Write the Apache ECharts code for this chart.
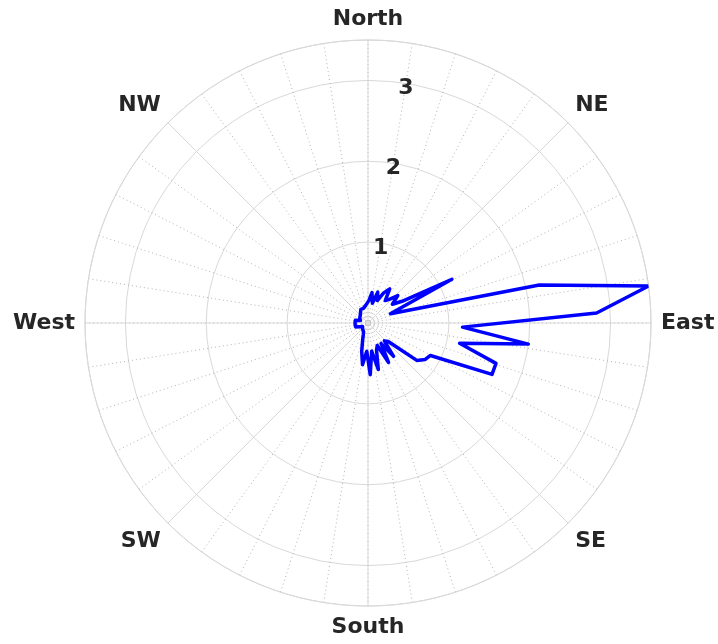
<!DOCTYPE html>
<html>
<head>
<meta charset="utf-8">
<script src="https://cdn.jsdelivr.net/npm/echarts@6/dist/echarts.min.js"></script>
<style>
  html, body { margin: 0; padding: 0; background: #ffffff; }
  #chart { width: 718px; height: 644px; }
</style>
</head>
<body>
<div id="chart"></div>
<script>
// Direction bins (compass bearing, degrees clockwise from North)
const bearings = [
  2.5, 7.5, 12.5, 17.5, 22.5, 27.5, 32.5, 37.5, 42.5, 47.5, 52.5, 57.5,
  62.5, 67.5, 72.5, 77.5, 82.5, 87.5, 92.5, 97.5, 102.5, 107.5, 112.5, 117.5,
  122.5, 127.5, 132.5, 137.5, 142.5, 147.5, 152.5, 157.5, 162.5, 167.5, 172.5, 177.5,
  182.5, 187.5, 192.5, 197.5, 202.5, 207.5, 212.5, 217.5, 222.5, 227.5, 232.5, 237.5,
  242.5, 247.5, 252.5, 257.5, 262.5, 267.5, 272.5, 277.5, 282.5, 287.5, 292.5, 297.5,
  302.5, 307.5, 312.5, 317.5, 322.5, 327.5, 332.5, 337.5, 342.5, 347.5, 352.5, 357.5
];

// Magnitude per bin
const magnitudes = [
  0.28, 0.38, 0.25, 0.40, 0.30, 0.42, 0.50, 0.35, 0.40, 0.50, 0.38, 0.50,
  1.17, 0.30, 0.30, 2.17, 3.50, 2.83, 1.17, 2.00, 1.16, 1.66, 1.66, 0.87,
  0.84, 0.76, 0.34, 0.30, 0.52, 0.30, 0.55, 0.30, 0.35, 0.59, 0.35, 0.64,
  0.35, 0.52, 0.36, 0.22, 0.15, 0.12, 0.10, 0.10, 0.10, 0.08, 0.10, 0.08,
  0.10, 0.10, 0.16, 0.16, 0.16, 0.16, 0.16, 0.16, 0.16, 0.10, 0.09, 0.10,
  0.12, 0.10, 0.12, 0.14, 0.16, 0.17, 0.19, 0.20, 0.19, 0.18, 0.22, 0.24
];

// Compass labels at every 45 degrees
const compassAngles = [0, 45, 90, 135, 180, 225, 270, 315];
const compassNames = ['North', 'NE', 'East', 'SE', 'South', 'SW', 'West', 'NW'];

// Radial tick labels
const radialTicks = [1, 2, 3];
const radialMax = 3.5;

const labelFont = {
  fontFamily: 'DejaVu Sans',
  fontWeight: 'bold',
  fontSize: 22,
  color: '#262626'
};

const center = [368, 323];
const radius = 283;

// Closed polygon through all bins
const pts = bearings.map((b, i) => [magnitudes[i], b]);
pts.push(pts[0]);

const chart = echarts.init(document.getElementById('chart'), null, { renderer: 'canvas' });

chart.setOption({
  backgroundColor: '#ffffff',
  animation: false,
  polar: [
    { center: center, radius: radius },
    { center: center, radius: radius },
    { center: center, radius: radius }
  ],
  angleAxis: [
    {
      // fine dotted spokes every 9 degrees
      polarIndex: 0,
      type: 'value', min: 0, max: 360, interval: 9,
      startAngle: 90, clockwise: true,
      axisLine: { show: false },
      axisTick: { show: false },
      axisLabel: { show: false },
      splitLine: { show: true, lineStyle: { color: '#b4b4b4', width: 1, type: [1, 3] } }
    },
    {
      // solid spokes every 45 degrees with compass names
      polarIndex: 1,
      type: 'value', min: 0, max: 360, interval: 45,
      startAngle: 90, clockwise: true,
      axisLine: { show: true, lineStyle: { color: '#d9d9d9', width: 1 } },
      axisTick: { show: false },
      axisLabel: Object.assign({
        show: true,
        margin: 10,
        formatter: function (v) {
          const k = compassAngles.indexOf(v);
          return k >= 0 ? compassNames[k] : '';
        }
      }, labelFont),
      splitLine: { show: true, lineStyle: { color: '#d9d9d9', width: 1 } }
    },
    {
      // carrier for the radial tick labels, 9 degrees east of north
      polarIndex: 2,
      type: 'value', min: 0, max: 360,
      startAngle: 81, clockwise: true,
      axisLine: { show: false },
      axisTick: { show: false },
      axisLabel: { show: false },
      splitLine: { show: false }
    }
  ],
  radiusAxis: [
    {
      polarIndex: 0,
      type: 'value', min: 0, max: radialMax, interval: 1,
      axisLine: { show: false }, axisTick: { show: false },
      axisLabel: { show: false }, splitLine: { show: false }
    },
    {
      polarIndex: 1,
      type: 'value', min: 0, max: radialMax, interval: 1,
      axisLine: { show: false }, axisTick: { show: false },
      axisLabel: { show: false },
      splitLine: { show: true, lineStyle: { color: '#d9d9d9', width: 1 } }
    },
    {
      polarIndex: 2,
      type: 'value', min: 0, max: radialMax, interval: 1,
      axisLine: { show: false }, axisTick: { show: false },
      splitLine: { show: false },
      axisLabel: Object.assign({
        show: true,
        margin: 0,
        align: 'center',
        verticalAlign: 'top',
        lineHeight: 10,
        formatter: function (v) {
          return radialTicks.indexOf(v) >= 0 ? String(v) : '';
        }
      }, labelFont)
    }
  ],
  series: [
    {
      type: 'line',
      coordinateSystem: 'polar',
      polarIndex: 1,
      data: pts,
      showSymbol: false,
      symbol: 'none',
      smooth: false,
      lineStyle: { color: '#0000ff', width: 3.5, join: 'round', cap: 'round' },
      z: 5
    }
  ]
});
</script>
</body>
</html>
